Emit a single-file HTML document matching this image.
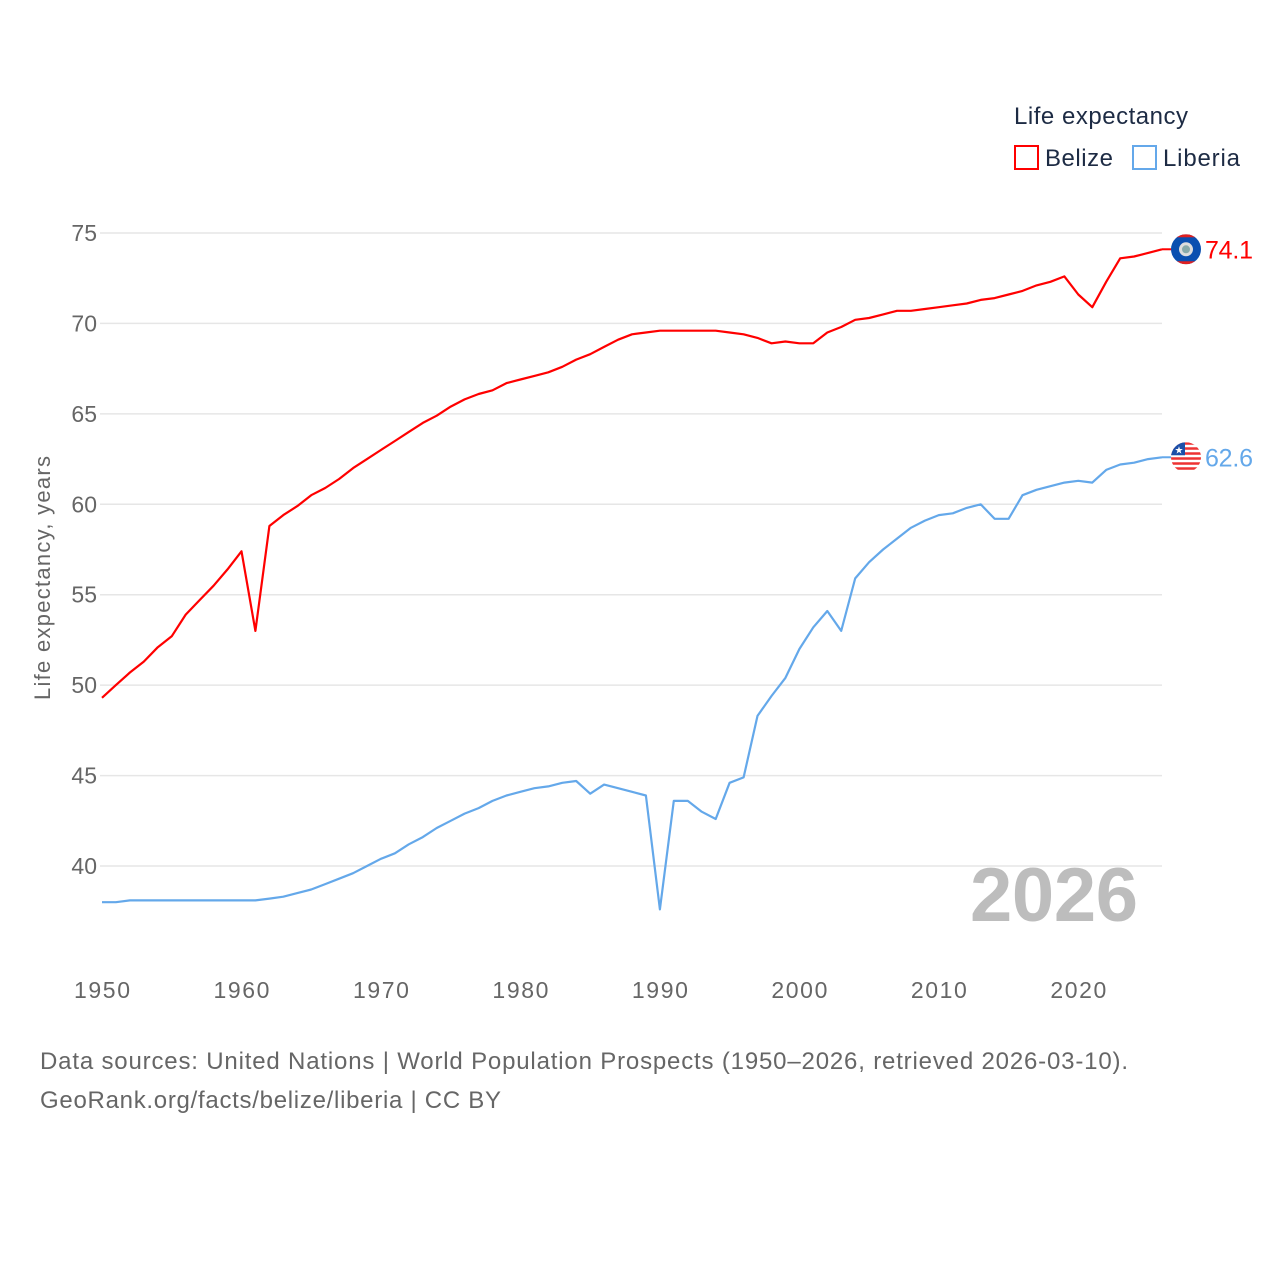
<!DOCTYPE html>
<html><head><meta charset="utf-8">
<style>
body{margin:0;background:#fff;font-family:"Liberation Sans",sans-serif;}
#wrap{position:relative;width:1280px;height:1280px;overflow:hidden;}
svg text{font-family:"Liberation Sans",sans-serif;}
</style></head>
<body>
<div id="wrap">
<svg id="chart" width="1280" height="1280">
  <defs id="defs"></defs>
  <g id="grid"></g>
  <g id="yticks"></g>
  <g id="xticks"></g>
  <text x="1138" y="921" text-anchor="end" font-size="76" font-weight="bold" fill="#bdbdbd" textLength="168">2026</text>
  <g id="series"></g>
  <text transform="translate(50,578) rotate(-90)" text-anchor="middle" font-size="22" fill="#666" textLength="244">Life expectancy, years</text>
  <text x="1014" y="124" font-size="24" fill="#1d2b44" textLength="174">Life expectancy</text>
  <g>
    <rect x="1015" y="146" width="23" height="23" fill="none" stroke="#ff0000" stroke-width="2"/>
    <text x="1045" y="166" font-size="24" fill="#1d2b44" textLength="68">Belize</text>
  </g>
  <g>
    <rect x="1133" y="146" width="23" height="23" fill="none" stroke="#64a8ea" stroke-width="2"/>
    <text x="1163" y="166" font-size="24" fill="#1d2b44" textLength="77">Liberia</text>
  </g>
  <text x="40" y="1069" font-size="24" fill="#666" textLength="1088">Data sources: United Nations | World Population Prospects (1950–2026, retrieved 2026-03-10).</text>
  <text x="40" y="1108" font-size="24" fill="#666" textLength="461">GeoRank.org/facts/belize/liberia | CC BY</text>
</svg>
</div>
<script>
const years = [];
for (let y = 1950; y <= 2026; y++) years.push(y);
const belize = [49.3,50.0,50.7,51.3,52.1,52.7,53.9,54.7,55.5,56.4,57.4,53.0,58.8,59.4,59.9,60.5,60.9,61.4,62.0,62.5,63.0,63.5,64.0,64.5,64.9,65.4,65.8,66.1,66.3,66.7,66.9,67.1,67.3,67.6,68.0,68.3,68.7,69.1,69.4,69.5,69.6,69.6,69.6,69.6,69.6,69.5,69.4,69.2,68.9,69.0,68.9,68.9,69.5,69.8,70.2,70.3,70.5,70.7,70.7,70.8,70.9,71.0,71.1,71.3,71.4,71.6,71.8,72.1,72.3,72.6,71.6,70.9,72.3,73.6,73.7,73.9,74.1];
const liberia = [38.0,38.0,38.1,38.1,38.1,38.1,38.1,38.1,38.1,38.1,38.1,38.1,38.2,38.3,38.5,38.7,39.0,39.3,39.6,40.0,40.4,40.7,41.2,41.6,42.1,42.5,42.9,43.2,43.6,43.9,44.1,44.3,44.4,44.6,44.7,44.0,44.5,44.3,44.1,43.9,37.6,43.6,43.6,43.0,42.6,44.6,44.9,48.3,49.4,50.4,52.0,53.2,54.1,53.0,55.9,56.8,57.5,58.1,58.7,59.1,59.4,59.5,59.8,60.0,59.2,59.2,60.5,60.8,61.0,61.2,61.3,61.2,61.9,62.2,62.3,62.5,62.6];
const yTicks = [40,45,50,55,60,65,70,75];
const xTicks = [1950,1960,1970,1980,1990,2000,2010,2020];

const NS = "http://www.w3.org/2000/svg";
const X0 = 102, X1 = 1162, Y75 = 233, Y40 = 866;
function xs(y){ return X0 + (y - 1950) * (X1 - X0) / (2026 - 1950); }
function ys(v){ return Y40 - (v - 40) * (Y40 - Y75) / 35; }
function mk(tag, attrs, parent){ const e = document.createElementNS(NS, tag); for (const k in attrs) e.setAttribute(k, attrs[k]); parent.appendChild(e); return e; }

const grid = document.getElementById('grid'), yt = document.getElementById('yticks'), xt = document.getElementById('xticks'), ser = document.getElementById('series'), defs = document.getElementById('defs');
yTicks.forEach(t => {
  const l = mk('line', {x1:100, x2:X1, y1:ys(t), y2:ys(t), stroke:'#e6e6e6', 'stroke-width':1.5}, grid);
  
  
  const tx = mk('text', {x:97, y:ys(t)+8, 'text-anchor':'end', 'font-size':23, fill:'#666'}, yt);
  tx.textContent = t;
  
  
});
xTicks.forEach(t => {
  const tx = mk('text', {x:xs(t), y:998, 'text-anchor':'middle', 'font-size':23, fill:'#666', textLength:56}, xt);
  tx.textContent = t;
  
  
});
function drawLine(vals, color, name){
  const d = vals.map((v,i) => (i ? 'L' : 'M') + xs(years[i]).toFixed(1) + ',' + ys(v).toFixed(1)).join(' ');
  const p = mk('path', {d:d, fill:'none', stroke:color, 'stroke-width':2.2, 'stroke-linejoin':'round'}, ser);
  
  
  const last = vals[vals.length-1], ly = ys(last);
  mk('line', {x1:X1, x2:1175, y1:ly, y2:ly, stroke:color, 'stroke-width':2}, ser);
  const cp = mk('clipPath', {id:'clip-' + name}, defs);
  mk('circle', {cx:1186, cy:ly, r:15}, cp);
  const g = mk('g', {'clip-path':'url(#clip-' + name + ')'}, ser);
  
  
  if (name === 'belize') {
    mk('rect', {x:1171, y:ly-15, width:30, height:30, fill:'#0a4fb0'}, g);
    mk('rect', {x:1171, y:ly-15, width:30, height:3, fill:'#e02020'}, g);
    mk('rect', {x:1171, y:ly+12, width:30, height:3, fill:'#e02020'}, g);
    mk('circle', {cx:1186, cy:ly, r:7, fill:'#ddd'}, g);
    mk('circle', {cx:1186, cy:ly, r:4, fill:'#8aa'}, g);
  } else {
    mk('rect', {x:1171, y:ly-15, width:30, height:30, fill:'#fff'}, g);
    for (let i=0;i<6;i++) mk('rect', {x:1171, y:ly-15+i*5, width:30, height:2.5, fill:'#e33'}, g);
    mk('rect', {x:1171, y:ly-15, width:14, height:13, fill:'#1c4fa8'}, g);
    mk('text', {x:1179, y:ly-4, 'font-size':10, fill:'#fff', 'text-anchor':'middle'}, g).textContent = '★';
  }
  const lab = mk('text', {x:1205, y:ly+9, 'font-size':25, fill:color, textLength:48}, ser);
  lab.textContent = last.toFixed(1);
  
  
}
drawLine(belize, '#ff0000', 'belize');
drawLine(liberia, '#64a8ea', 'liberia');
</script>
</body></html>
